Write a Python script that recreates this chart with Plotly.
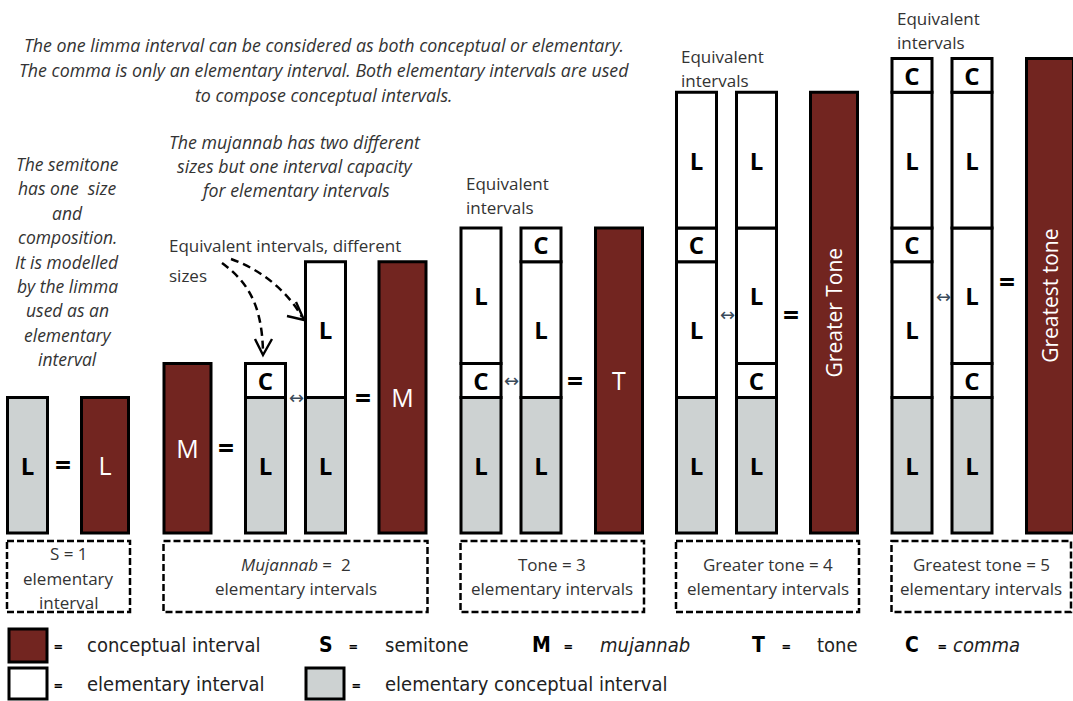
import plotly.graph_objects as go

# ---------------- data ----------------
SEG_SIZE = {"L": 4, "C": 1}          # limma ~ 4 commas
group_names = ["semitone", "mujannab", "tone", "greater", "greatest"]
# elementary columns, segments listed bottom -> top (first one is the elementary conceptual limma)
elementary_columns = {
    "semitone": [["L"]],
    "mujannab": [["L", "C"], ["L", "L"]],
    "tone": [["L", "C", "L"], ["L", "L", "C"]],
    "greater": [["L", "L", "C", "L"], ["L", "C", "L", "L"]],
    "greatest": [["L", "L", "C", "L", "C"], ["L", "C", "L", "L", "C"]],
}
conceptual_groups = ["semitone", "mujannab", "mujannab", "tone", "greater", "greatest"]
conceptual_labels = ["L", "M", "M", "T", "Greater Tone", "Greatest tone"]
conceptual_sizes = [4, 5, 8, 9, 13, 14]
group_captions = {
    "semitone": ["S = 1", "elementary", "interval"],
    "mujannab": ["<i>Mujannab</i> =  2", "elementary intervals"],
    "tone": ["Tone = 3", "elementary intervals"],
    "greater": ["Greater tone = 4", "elementary intervals"],
    "greatest": ["Greatest tone = 5", "elementary intervals"],
}

# ---------------- layout / style ----------------
W, H = 1073, 701
BASE_PX = 533.0      # pixel row of the bars' bottom
U = 33.9             # pixels per size unit
MAROON = "#722520"
GREY = "#CDD2D2"
TXT = "#333333"
FONT = "Open Sans"

col_x = {
    "semitone": [27.5],
    "mujannab": [265.5, 325.5],
    "tone": [481, 541],
    "greater": [696.5, 756.5],
    "greatest": [912, 972],
}
concept_x = [105, 187.5, 402.5, 619, 834, 1050]
COL_W = 40
CON_W = 47


def yd(py):
    return (BASE_PX - py) / U


# ---------------- build bar traces ----------------
grey = dict(x=[], base=[], y=[], text=[], width=[])
white = dict(x=[], base=[], y=[], text=[], width=[])
for g in group_names:
    for cx, segs in zip(col_x[g], elementary_columns[g]):
        b = 0
        for i, s in enumerate(segs):
            d = grey if i == 0 else white
            d["x"].append(cx)
            d["base"].append(b)
            d["y"].append(SEG_SIZE[s])
            d["text"].append(s)
            d["width"].append(COL_W)
            b += SEG_SIZE[s]

fig = go.Figure()
for d, col in ((grey, GREY), (white, "white")):
    fig.add_trace(go.Bar(
        x=d["x"], y=d["y"], base=d["base"], width=d["width"], text=d["text"],
        marker=dict(color=col, line=dict(color="black", width=3)),
        textposition="inside", insidetextanchor="middle", constraintext="none",
        textangle=0, textfont=dict(family=FONT, size=24, color="black", weight="bold"),
        hoverinfo="skip", showlegend=False,
    ))

short = [i for i, l in enumerate(conceptual_labels) if len(l) <= 2]
long_ = [i for i, l in enumerate(conceptual_labels) if len(l) > 2]
for idx, ang, fs in ((short, 0, 25), (long_, -90, 21)):
    fig.add_trace(go.Bar(
        x=[concept_x[i] for i in idx], y=[conceptual_sizes[i] for i in idx],
        base=[0] * len(idx), width=[CON_W] * len(idx),
        text=[conceptual_labels[i] for i in idx],
        marker=dict(color=MAROON, line=dict(color="black", width=3)),
        textposition="inside", insidetextanchor="middle", constraintext="none",
        textangle=ang, textfont=dict(family=FONT, size=fs, color="white"),
        hoverinfo="skip", showlegend=False,
    ))

shapes = []
annotations = []


def ann(text, px, py, size=16, color=TXT, xanchor="center", italic=False, bold=False, family=FONT):
    if italic:
        text = "<i>" + text + "</i>"
    if bold:
        text = "<b>" + text + "</b>"
    annotations.append(dict(
        text=text, x=px, y=yd(py), xref="x", yref="y", showarrow=False,
        xanchor=xanchor, yanchor="middle", font=dict(family=family, size=size, color=color),
    ))


# dashed caption boxes, spanning each group's bars
box_lines_y = {"semitone": [553, 578, 602]}
for gi, g in enumerate(group_names):
    lefts = [x - COL_W / 2 for x in col_x[g]] + [concept_x[i] - CON_W / 2 for i, cg in enumerate(conceptual_groups) if cg == g]
    rights = [x + COL_W / 2 for x in col_x[g]] + [concept_x[i] + CON_W / 2 for i, cg in enumerate(conceptual_groups) if cg == g]
    x0 = min(lefts) - 0.5
    x1 = min(max(rights) + 1.5, 1071)
    shapes.append(dict(type="rect", xref="x", yref="y", x0=x0, x1=x1, y0=yd(541), y1=yd(612),
                       line=dict(color="black", width=2.5, dash="7px,3px"), layer="above"))
    lines = group_captions[g]
    ys = box_lines_y.get(g, [564, 588])
    for t, yy in zip(lines, ys):
        ann(t, (x0 + x1) / 2, yy, size=17)

# equals signs between elementary columns and conceptual bars
eq_pos = [(63, 464), (226, 447), (363, 397), (575, 380), (791, 314), (1007, 281)]
for ex, ey in eq_pos:
    ann("=", ex, ey, size=28, color="black", bold=True)

# small double arrows between equivalent columns
for ax_, ay_ in [(296, 397), (511, 380), (727, 314), (943, 296)]:
    ann("\u2194", ax_, ay_, size=18, color="#3a4a5a", family="DejaVu Sans")

# top explanatory text
for t, yy in [("The one limma interval can be considered as both conceptual or elementary.", 45),
              ("The comma is only an elementary interval. Both elementary intervals are used", 70),
              ("to compose conceptual intervals.", 95)]:
    ann(t, 324, yy, size=17.8, italic=True)

semi_lines = ["The semitone", "has one  size", "and", "composition.", "It is modelled",
              "by the limma", "used as an", "elementary", "interval"]
for i, t in enumerate(semi_lines):
    ann(t, 67, 164 + i * 24.4, size=17.5, italic=True)

for t, yy in [("The mujannab has two different", 142), ("sizes but one interval capacity", 166),
              ("for elementary intervals", 190)]:
    ann(t, 295, yy, size=17.8, italic=True)

ann("Equivalent intervals, different", 167, 245, size=17, xanchor="left")
ann("sizes", 167, 275, size=17, xanchor="left")
for lx, ly in [(464, 183), (679, 56), (895, 18)]:
    ann("Equivalent", lx, ly, size=17, xanchor="left")
    ann("intervals", lx, ly + 24, size=17, xanchor="left")

# curved dashed arrows
shapes.append(dict(type="path", xref="x", yref="y",
                   path=f"M 222,{yd(263)} C 248,{yd(282)} 262,{yd(305)} 263,{yd(352)}",
                   line=dict(color="black", width=2.5, dash="8px,5px")))
shapes.append(dict(type="path", xref="x", yref="y",
                   path=f"M 255,{yd(339)} L 263,{yd(355)} L 272,{yd(339)}",
                   line=dict(color="black", width=2.4)))
shapes.append(dict(type="path", xref="x", yref="y",
                   path=f"M 231,{yd(259)} C 262,{yd(270)} 288,{yd(292)} 302,{yd(317)}",
                   line=dict(color="black", width=2.5, dash="8px,5px")))
shapes.append(dict(type="path", xref="x", yref="y",
                   path=f"M 296,{yd(302)} L 304,{yd(320)} L 287,{yd(316)}",
                   line=dict(color="black", width=2.4)))

# ---------------- legend ----------------
LEG_FONT = "Liberation Sans Narrow, DejaVu Sans Condensed, Roboto"
for (x0, x1, y0, y1, col) in [(9, 47, 629, 662, MAROON), (9, 47, 668, 699, "white"), (306, 344, 668, 699, GREY)]:
    shapes.append(dict(type="rect", xref="x", yref="y", x0=x0, x1=x1, y0=yd(y1), y1=yd(y0),
                       fillcolor=col, line=dict(color="black", width=3)))
ann("=", 58, 646, size=15, color="black", bold=True)
ann("=", 58, 685, size=15, color="black", bold=True)
ann("=", 356, 685, size=15, color="black", bold=True)
ann("conceptual interval", 85, 645, size=20, xanchor="left", family=LEG_FONT, color="#222")
ann("elementary interval", 85, 684, size=20, xanchor="left", family=LEG_FONT, color="#222")
ann("elementary conceptual interval", 383, 684, size=20, xanchor="left", family=LEG_FONT, color="#222")
for sym, sx, ex, word, wx, it in [("S", 326, 353, "semitone", 383, False), ("M", 541, 568, "mujannab", 598, True),
                                  ("T", 758, 786, "tone", 815, False)]:
    ann(sym, sx, 645, size=21, color="black", bold=True, family=LEG_FONT)
    ann("=", ex, 646, size=15, color="black", bold=True)
    ann(word, wx, 645, size=20, xanchor="left", italic=it, family=LEG_FONT, color="#222")
ann("C", 912, 645, size=21, color="black", bold=True, family=LEG_FONT)
ann("=", 942, 646, size=15, color="black", bold=True)
ann("comma", 951, 645, size=20, xanchor="left", italic=True, family=LEG_FONT, color="#222")

fig.update_layout(
    width=W, height=H, margin=dict(l=0, r=0, t=0, b=0),
    paper_bgcolor="white", plot_bgcolor="white", barmode="overlay",
    xaxis=dict(range=[0, W], visible=False, fixedrange=True),
    yaxis=dict(range=[yd(H), yd(0)], visible=False, fixedrange=True),
    shapes=shapes, annotations=annotations, showlegend=False,
)
fig.write_html("out.html", config={"displayModeBar": False},
               post_script="document.body.style.margin='0';document.body.style.overflow='hidden';")
